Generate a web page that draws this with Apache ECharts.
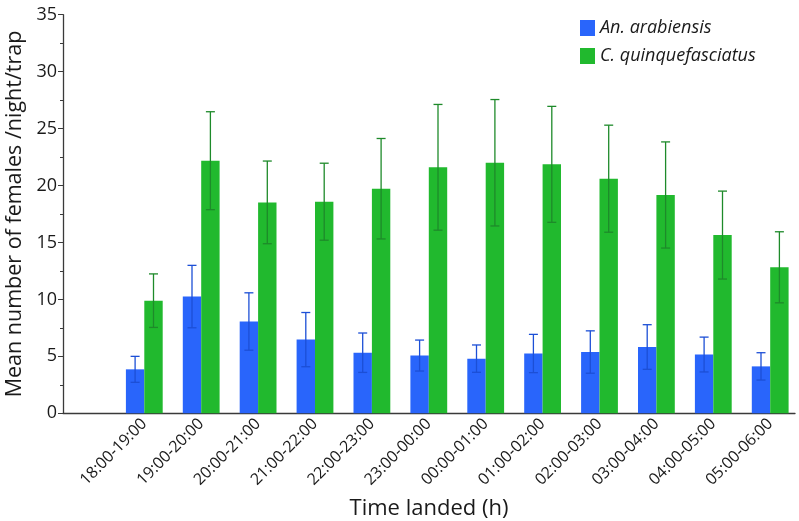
<!DOCTYPE html>
<html>
<head>
<meta charset="utf-8">
<script src="https://cdn.jsdelivr.net/npm/echarts@6/dist/echarts.min.js"></script>
<style>
html,body{margin:0;padding:0;background:#fff;}
#chart{width:799px;height:521px;}
</style>
</head>
<body>
<div id="chart"></div>
<script>
const categories = ['18:00-19:00','19:00-20:00','20:00-21:00','21:00-22:00','22:00-23:00','23:00-00:00','00:00-01:00','01:00-02:00','02:00-03:00','03:00-04:00','04:00-05:00','05:00-06:00'];
const arabiensis = [3.86, 10.25, 8.06, 6.47, 5.32, 5.07, 4.8, 5.25, 5.38, 5.82, 5.16, 4.12];
const arabiensisErr = [1.14, 2.74, 2.52, 2.38, 1.73, 1.36, 1.2, 1.68, 1.86, 1.96, 1.53, 1.2];
const quinque = [9.89, 22.18, 18.52, 18.58, 19.72, 21.6, 22.0, 21.86, 20.6, 19.17, 15.65, 12.82];
const quinqueErr = [2.35, 4.3, 3.63, 3.38, 4.41, 5.52, 5.55, 5.09, 4.7, 4.66, 3.86, 3.12];
const seriesNames = ['An. arabiensis', 'C. quinquefasciatus'];
const yTicks = {min: 0, max: 35, interval: 5};

const FONT = 'Open Sans';
const BAR_W = 18.4;
const TEXT = '#1a1a1a';
const AXIS = '#3a3a3a';

function errData(vals, errs){ return vals.map((v,i)=>[i, v - errs[i], v + errs[i]]); }
function errRender(sign, color){
  return function(params, api){
    const x = api.value(0);
    const lo = api.coord([x, api.value(1)]);
    const hi = api.coord([x, api.value(2)]);
    const cx = lo[0] + sign * BAR_W / 2;
    const cap = 4.5;
    const st = {stroke: color, lineWidth: 1.3};
    return {type:'group', children:[
      {type:'line', shape:{x1:cx, y1:lo[1], x2:cx, y2:hi[1]}, style:st},
      {type:'line', shape:{x1:cx-cap, y1:hi[1], x2:cx+cap, y2:hi[1]}, style:st},
      {type:'line', shape:{x1:cx-cap, y1:lo[1], x2:cx+cap, y2:lo[1]}, style:st}
    ]};
  };
}

const chart = echarts.init(document.getElementById('chart'), null, {renderer:'canvas'});
chart.setOption({
  animation:false,
  backgroundColor:'#fff',
  textStyle:{fontFamily:FONT},
  legend:{
    data:seriesNames, orient:'vertical', left:575, top:14,
    icon:'rect', itemWidth:15, itemHeight:16, itemGap:10,
    textStyle:{fontFamily:FONT, fontStyle:'italic', fontSize:18, lineHeight:18, color:TEXT}
  },
  grid:[
    {left:115.85, right:0.35, top:14.7, bottom:107.7, containLabel:false, outerBoundsMode:'none'},
    {left:63, right:4, top:14.7, bottom:107.7, containLabel:false, outerBoundsMode:'none'}
  ],
  xAxis:[
    {type:'category', gridIndex:0, data:categories, boundaryGap:true,
     axisLine:{show:false}, axisTick:{show:false},
     axisLabel:{rotate:45, fontSize:16, color:TEXT, fontFamily:FONT, margin:8, interval:0}},
    {type:'value', gridIndex:1, min:0, max:1,
     axisLine:{show:true, lineStyle:{color:AXIS, width:1.3}}, axisTick:{show:false},
     axisLabel:{show:false}, splitLine:{show:false},
     name:'Time landed (h)', nameLocation:'middle', nameGap:84,
     nameTextStyle:{fontSize:22, color:TEXT, fontFamily:FONT}}
  ],
  yAxis:[
    {type:'value', gridIndex:0, min:yTicks.min, max:yTicks.max, interval:yTicks.interval, offset:52.85,
     axisLine:{show:true, lineStyle:{color:AXIS, width:1.3}},
     axisTick:{show:true, length:5, lineStyle:{color:AXIS}},
     minorTick:{show:true, splitNumber:2, length:3, lineStyle:{color:AXIS}},
     splitLine:{show:false},
     axisLabel:{fontSize:18, color:TEXT, fontFamily:FONT, margin:6},
     name:'Mean number of females /night/trap', nameLocation:'middle', nameGap:37,
     nameTextStyle:{fontSize:21.5, color:TEXT, fontFamily:FONT}},
    {type:'value', gridIndex:1, show:false, min:0, max:1}
  ],
  series:[
    {name:seriesNames[0], type:'bar', xAxisIndex:0, yAxisIndex:0, data:arabiensis, barWidth:BAR_W, barGap:'0%',
     itemStyle:{color:'#2965fb'}},
    {name:seriesNames[1], type:'bar', xAxisIndex:0, yAxisIndex:0, data:quinque, barWidth:BAR_W, barGap:'0%',
     itemStyle:{color:'#21b92e'}},
    {type:'custom', xAxisIndex:0, yAxisIndex:0, data:errData(arabiensis, arabiensisErr),
     renderItem:errRender(-1, '#1c4fd6'), z:5, silent:true},
    {type:'custom', xAxisIndex:0, yAxisIndex:0, data:errData(quinque, quinqueErr),
     renderItem:errRender(1, '#1e8a2a'), z:5, silent:true}
  ]
});
</script>
</body>
</html>
